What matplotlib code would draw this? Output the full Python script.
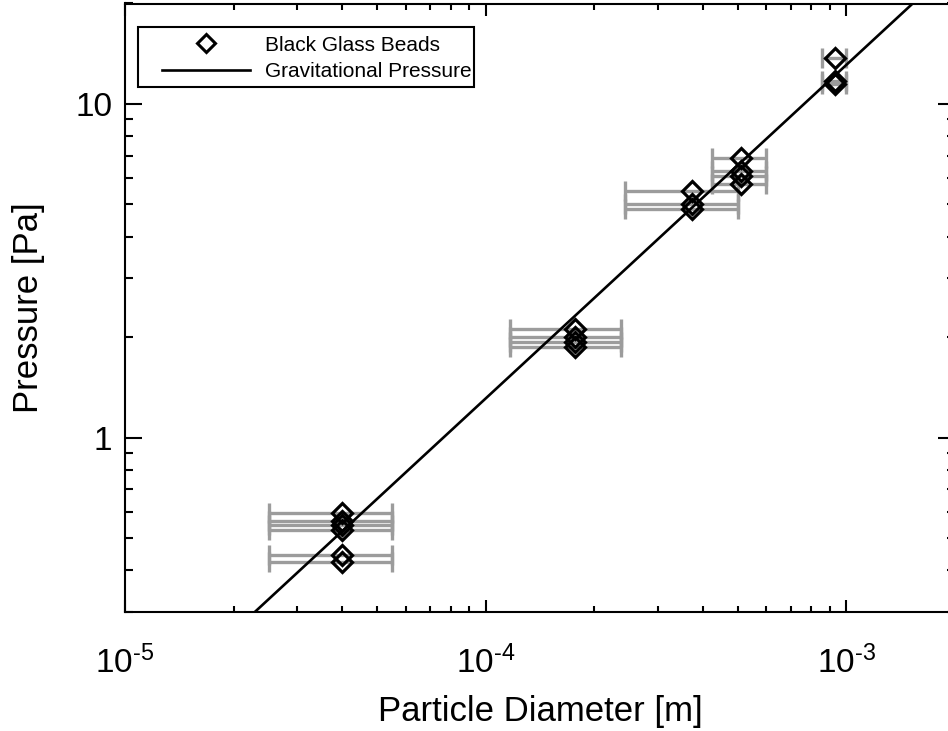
import numpy as np
import matplotlib
matplotlib.use("Agg")
import matplotlib.pyplot as plt
from matplotlib.lines import Line2D
from matplotlib.patches import Rectangle
from matplotlib.ticker import LogLocator, NullFormatter, FixedLocator, FixedFormatter

plt.rcParams['font.family'] = ['Liberation Sans', 'DejaVu Sans']
plt.rcParams['mathtext.fontset'] = 'custom'
plt.rcParams['mathtext.rm'] = 'Liberation Sans'
plt.rcParams['mathtext.it'] = 'Liberation Sans'

# Black glass beads: diameter [m], its error, pressure [Pa]
diameter = [4.0e-5, 4.0e-5, 4.0e-5, 4.0e-5, 4.0e-5, 4.0e-5,
            1.77e-4, 1.77e-4, 1.77e-4, 1.77e-4,
            3.72e-4, 3.72e-4, 3.72e-4,
            5.1e-4, 5.1e-4, 5.1e-4, 5.1e-4,
            9.27e-4, 9.27e-4, 9.27e-4]
diameter_err = [1.5e-5, 1.5e-5, 1.5e-5, 1.5e-5, 1.5e-5, 1.5e-5,
                0.6e-4, 0.6e-4, 0.6e-4, 0.6e-4,
                1.28e-4, 1.28e-4, 1.28e-4,
                0.87e-4, 0.87e-4, 0.87e-4, 0.87e-4,
                0.7e-4, 0.7e-4, 0.7e-4]
pressure = [0.596, 0.564, 0.545, 0.527, 0.446, 0.425,
            2.11, 2.00, 1.94, 1.87,
            5.50, 5.02, 4.85,
            6.89, 6.30, 6.08, 5.75,
            13.7, 11.7, 11.5]

# gravitational pressure line (end points)
grav_d = [1e-5, 2e-3]
grav_p = [0.131, 26.2]

xtick_vals = [1e-5, 1e-4, 1e-3]
xtick_labels = [r'$10^{\text{-}5}$', r'$10^{\text{-}4}$', r'$10^{\text{-}3}$']
ytick_vals = [1, 10]
ytick_labels = ['1', '10']

fig = plt.figure(figsize=(9.48, 7.31), dpi=100)
ax = fig.add_axes([125 / 948, (731 - 612) / 731, 830 / 948, 608.5 / 731])

ax.errorbar(diameter, pressure, xerr=diameter_err, fmt='none', ecolor='#9c9c9c',
            elinewidth=2.4, capsize=7, capthick=2.4, zorder=2)
ax.plot(grav_d, grav_p, color='black', lw=1.9, zorder=3)
ax.plot(diameter, pressure, 'D', mfc='none', mec='black', ms=10.5, mew=2.3, zorder=4)

ax.set_xscale('log')
ax.set_yscale('log')
ax.set_xlim(1e-5, 2e-3)
ax.set_ylim(0.3, 20)

ax.xaxis.set_major_locator(FixedLocator(xtick_vals))
ax.xaxis.set_major_formatter(FixedFormatter(xtick_labels))
ax.xaxis.set_minor_locator(LogLocator(base=10, subs=np.arange(2, 10)))
ax.xaxis.set_minor_formatter(NullFormatter())
ax.yaxis.set_major_locator(FixedLocator(ytick_vals))
ax.yaxis.set_major_formatter(FixedFormatter(ytick_labels))
ax.yaxis.set_minor_locator(LogLocator(base=10, subs=np.arange(2, 10)))
ax.yaxis.set_minor_formatter(NullFormatter())

ax.tick_params(which='both', direction='in', top=True, right=True, width=1.5,
               colors='black', labelsize=24)
ax.tick_params(axis='x', which='major', length=8.6, pad=24)
ax.tick_params(axis='x', which='minor', length=4.3)
ax.tick_params(axis='y', which='major', length=11.9, pad=9)
ax.tick_params(axis='y', which='minor', length=6)
for s in ax.spines.values():
    s.set_linewidth(1.5)

ax.set_xlabel('Particle Diameter [m]', fontsize=25, labelpad=11)
ax.set_ylabel('Pressure [Pa]', fontsize=25, labelpad=22)

# legend: frame drawn separately so the content can sit further right
ax.add_patch(Rectangle((0.0157, 0.8628), 0.4048, 0.0986, transform=ax.transAxes,
                       facecolor='white', edgecolor='black', lw=1.5, zorder=5))
handles = [Line2D([], [], marker='D', ls='none', mfc='none', mec='black', ms=9, mew=2.2),
           Line2D([], [], color='black', lw=1.9)]
leg = ax.legend(handles, ['Black Glass Beads', 'Gravitational Pressure'],
                loc='upper left', bbox_to_anchor=(0.0446, 0.947), borderaxespad=0,
                fontsize=15, handlelength=4.2, handletextpad=0.75, borderpad=0,
                labelspacing=0.35, frameon=False)
leg.set_zorder(6)

fig.savefig('out.png', dpi=100)
